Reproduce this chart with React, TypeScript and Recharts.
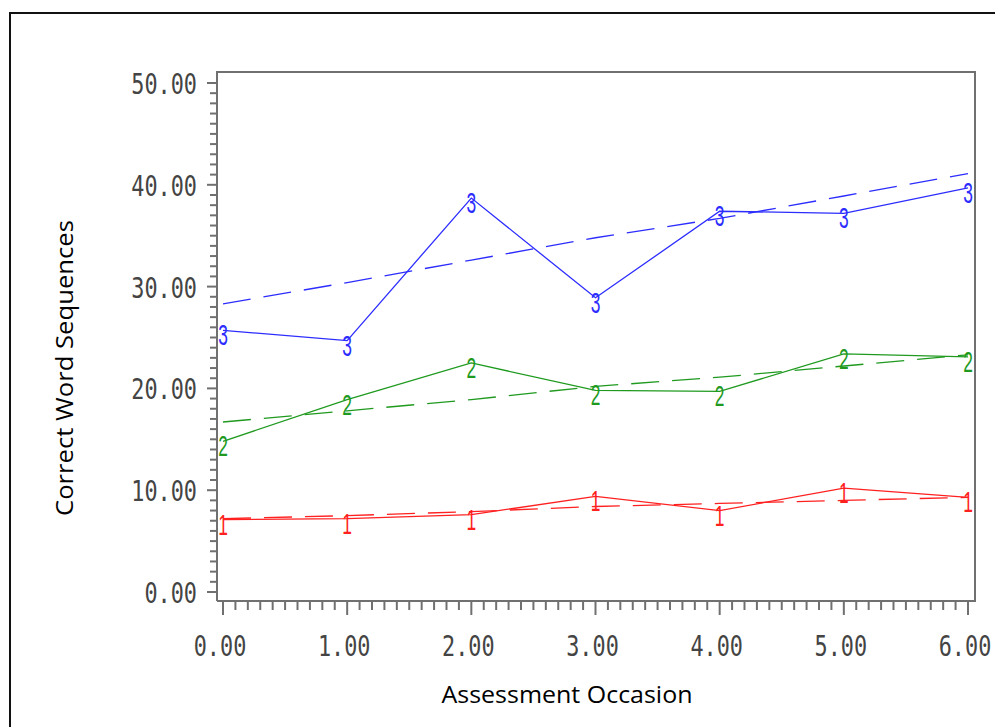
import { LineChart, Line, XAxis, YAxis } from "recharts";

const occasions = [0, 1, 2, 3, 4, 5, 6];

// observed means (solid) and fitted trend (dashed) per group
const group3Observed = [25.7, 24.7, 38.7, 28.9, 37.4, 37.2, 39.7];
const group3Fitted = [28.3, 30.4, 32.6, 34.8, 36.7, 38.9, 41.1];
const group2Observed = [14.8, 18.9, 22.5, 19.8, 19.7, 23.4, 23.1];
const group2Fitted = [16.7, 17.8, 18.9, 20.2, 21.1, 22.2, 23.3];
const group1Observed = [7.1, 7.2, 7.6, 9.4, 8.0, 10.2, 9.3];
const group1Fitted = [7.2, 7.5, 7.9, 8.4, 8.7, 9.0, 9.3];

const xMajorTicks = [0, 1, 2, 3, 4, 5, 6];
const yMajorTicks = [0, 10, 20, 30, 40, 50];

// minor ticks: 10 per major interval
const xTicks: number[] = [];
for (let i = 0; i <= 60; i++) xTicks.push(i / 10);
const yTicks: number[] = [];
for (let i = 0; i <= 50; i++) yTicks.push(i);

const chartData = occasions.map((x, i) => ({
  x,
  g3: group3Observed[i],
  g3fit: group3Fitted[i],
  g2: group2Observed[i],
  g2fit: group2Fitted[i],
  g1: group1Observed[i],
  g1fit: group1Fitted[i],
}));

const AXIS = "#707070";
const LABEL = "#444";
const BLUE = "#2d2dff";
const GREEN = "#1f9a1f";
const RED = "#ff2020";

const isMajor = (v: number, list: number[]) => list.some((m) => Math.abs(m - v) < 1e-6);

const YTick = (props: any) => {
  const { x, y, payload } = props;
  const major = isMajor(payload.value, yMajorTicks);
  return (
    <g>
      <line x1={x - (major ? 10 : 7)} x2={x} y1={y} y2={y} stroke={AXIS} strokeWidth={2} />
      {major && (
        <text
          transform={`translate(${x - 20},${y + 11}) scale(0.78,1)`}
          textAnchor="end"
          fontFamily="DejaVu Sans Mono"
          fontSize={28}
          fill={LABEL}
        >
          {payload.value.toFixed(2)}
        </text>
      )}
    </g>
  );
};

const XTick = (props: any) => {
  const { x, y, payload } = props;
  const major = isMajor(payload.value, xMajorTicks);
  return (
    <g>
      <line x1={x} x2={x} y1={y} y2={y + (major ? 14 : 9)} stroke={AXIS} strokeWidth={2} />
      {major && (
        <text
          transform={`translate(${x - 3},${y + 55}) scale(0.78,1)`}
          textAnchor="middle"
          fontFamily="DejaVu Sans Mono"
          fontSize={28}
          fill={LABEL}
        >
          {payload.value.toFixed(2)}
        </text>
      )}
    </g>
  );
};

const symbolDot = (ch: string, color: string) => (props: any) => {
  const { cx, cy, index } = props;
  if (cx == null || cy == null) return null;
  return (
    <text
      key={`${ch}-${index}`}
      transform={`translate(${cx},${cy + 15}) scale(0.6,1)`}
      textAnchor="middle"
      fontFamily="Liberation Sans"
      fontSize={29}
      fill={color}
    >
      {ch}
    </text>
  );
};

const XTitle = () => (
  <text x={567} y={703} textAnchor="middle" fontFamily="Open Sans" fontSize={23} fill="#000"
    textLength={251} lengthAdjust="spacingAndGlyphs">
    Assessment Occasion
  </text>
);

const YTitle = () => (
  <text x={73} y={368} transform="rotate(-90, 73, 368)" textAnchor="middle" fontFamily="Open Sans"
    fontSize={23} fill="#000" textLength={296} lengthAdjust="spacingAndGlyphs">
    Correct Word Sequences
  </text>
);

export default function App() {
  return (
    <div style={{ position: "absolute", left: 0, top: 0, width: 995, height: 727, background: "#fff", overflow: "hidden" }}>
      <div
        style={{
          position: "absolute", left: 9, top: 12, width: 1000, height: 1000,
          borderLeft: "2px solid #111", borderTop: "2px solid #111",
        }}
      />
      <div style={{ position: "absolute", left: 0, top: 0 }}>
        <LineChart width={995} height={727} data={chartData} margin={{ top: 72, right: 20, bottom: 0, left: 0 }}>
          <XAxis
            dataKey="x"
            type="number"
            domain={[0, 6]}
            ticks={xTicks}
            interval={0}
            padding={{ left: 6, right: 7 }}
            height={126}
            tickSize={0}
            tickMargin={0}
            tick={<XTick />}
            axisLine={{ stroke: AXIS, strokeWidth: 2 }}
            label={<XTitle />}
          />
          <YAxis
            type="number"
            domain={[0, 50]}
            ticks={yTicks}
            interval={0}
            padding={{ top: 11, bottom: 9 }}
            width={217}
            tickSize={0}
            tickMargin={0}
            tick={<YTick />}
            axisLine={{ stroke: AXIS, strokeWidth: 2 }}
            label={<YTitle />}
          />

          <Line dataKey="g1fit" stroke={RED} strokeWidth={1.3} strokeDasharray="28 13" dot={false} activeDot={false} isAnimationActive={false} />
          <Line dataKey="g1" stroke={RED} strokeWidth={1.3} dot={symbolDot("1", RED)} activeDot={false} isAnimationActive={false} />
          <Line dataKey="g2fit" stroke={GREEN} strokeWidth={1.3} strokeDasharray="28 13" dot={false} activeDot={false} isAnimationActive={false} />
          <Line dataKey="g2" stroke={GREEN} strokeWidth={1.3} dot={symbolDot("2", GREEN)} activeDot={false} isAnimationActive={false} />
          <Line dataKey="g3fit" stroke={BLUE} strokeWidth={1.3} strokeDasharray="28 13" dot={false} activeDot={false} isAnimationActive={false} />
          <Line dataKey="g3" stroke={BLUE} strokeWidth={1.3} dot={symbolDot("3", BLUE)} activeDot={false} isAnimationActive={false} />
        </LineChart>
      </div>
      {/* top and right edges of the plot frame */}
      <div
        style={{
          position: "absolute", left: 216, top: 71, width: 758, height: 529,
          borderTop: `2px solid ${AXIS}`, borderRight: `2px solid ${AXIS}`, pointerEvents: "none",
        }}
      />
    </div>
  );
}
